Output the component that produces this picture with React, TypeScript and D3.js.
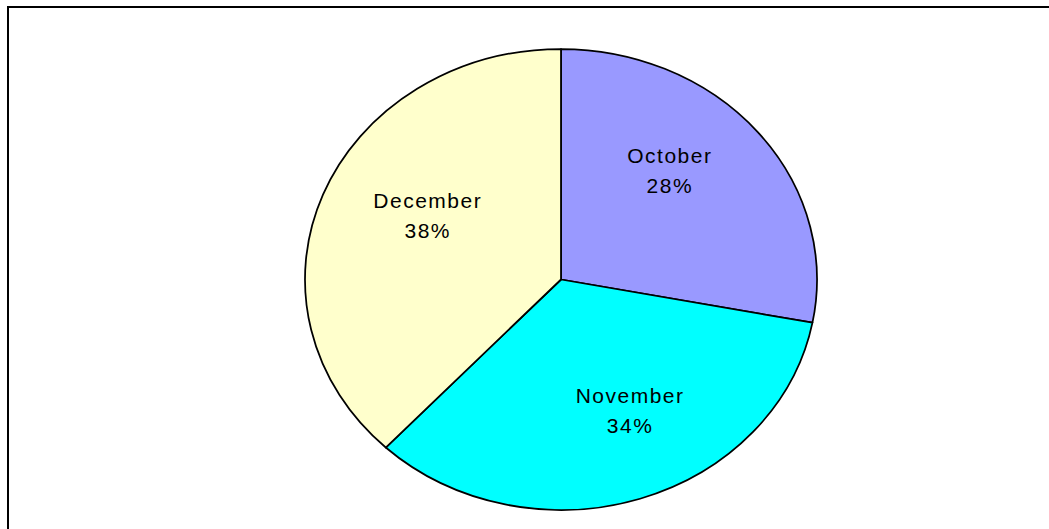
import React from "react";
import * as d3 from "d3";

const months = ["October", "November", "December"];
const values = [28, 34, 38];
const colors = ["#9999FF", "#00FFFF", "#FFFFCC"];
// small layout tweaks for the label positions (Excel-style placement)
const labelNudge: [number, number][] = [[-7.5, -13.8], [22, -11.7], [5.5, -9.5]];

const W = 1049;
const H = 529;
const cx = 561;
const cy = 279.5;
const rx = 256;
const ry = 230.5;
const labelDist = 150;
const fontSize = 21;
const ls = 1.5;

export default function App() {
  const pie = d3.pie<number>().sort(null).value((d) => d)(values);
  const arc = d3.arc<d3.PieArcDatum<number>>().innerRadius(0).outerRadius(ry);
  const total = d3.sum(values);
  return (
    <svg
      width={W}
      height={H}
      style={{ position: "absolute", left: 0, top: 0, background: "#fff" }}
    >
      <rect x={8} y={7} width={1200} height={700} fill="#fff" stroke="#000" strokeWidth={2} />
      <g transform={`translate(${cx},${cy}) scale(${rx / ry},1)`}>
        {pie.map((p, i) => (
          <path
            key={i}
            d={arc(p) || ""}
            fill={colors[i]}
            stroke="#000"
            strokeWidth={1.75}
            vectorEffect="non-scaling-stroke"
            strokeLinejoin="round"
          />
        ))}
      </g>
      {pie.map((p, i) => {
        const mid = (p.startAngle + p.endAngle) / 2;
        const x = cx + labelDist * Math.sin(mid) + labelNudge[i][0] + ls / 2;
        const y = cy - labelDist * Math.cos(mid) + labelNudge[i][1];
        const pct = Math.round((values[i] / total) * 100);
        return (
          <text
            key={i}
            x={x}
            y={y}
            textAnchor="middle"
            fontFamily="'Liberation Sans', Arial, sans-serif"
            fontSize={fontSize}
            letterSpacing={ls}
            fill="#000"
          >
            <tspan x={x} y={y - 7}>{months[i]}</tspan>
            <tspan x={x} y={y + 23}>{pct}%</tspan>
          </text>
        );
      })}
    </svg>
  );
}
